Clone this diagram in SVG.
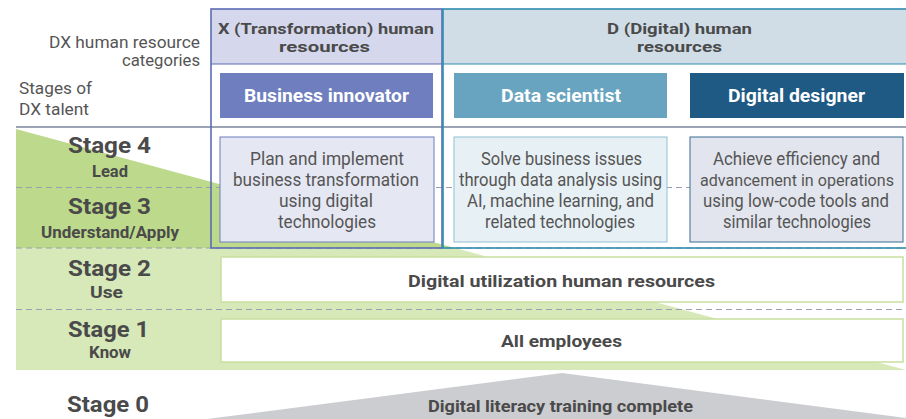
<svg xmlns="http://www.w3.org/2000/svg" width="906" height="419" viewBox="0 0 906 419">
<style>
text{font-family:Roboto,"Liberation Sans",sans-serif}
.b{font-weight:700;fill:#4a4a4a}
.r{font-weight:400;fill:#555}
.hd{font-size:15.5px}
.role{font-size:19px;font-weight:700;fill:#fff}
.stg{font-size:22px}
.sub{font-size:16px}
.desc{font-size:17.5px}
.lbl{font-size:17px}
.band{font-size:17px}
.dash{stroke:#9aa0b0;stroke-width:1.2;stroke-dasharray:6 4;fill:none}
</style>
<g id="background">
<polygon points="16,129 455,248 16,248" fill="#bdd98b"/>
<polygon points="16,248 455,248 906,370 16,370" fill="#d7e8b9"/>
<polygon points="207,419 562,373 906,418 906,419" fill="#cccdd0"/>
</g>
<g id="connectors">
<line x1="16" y1="127" x2="906" y2="127" stroke="#9ba4b4" stroke-width="2"/>
<line class="dash" x1="16" y1="187.5" x2="906" y2="187.5"/>
<line class="dash" x1="16" y1="248" x2="906" y2="248"/>
<line class="dash" x1="16" y1="309.5" x2="906" y2="309.5"/>
</g>
<g id="labels">
<text class="r lbl" x="49" y="48" textLength="151" lengthAdjust="spacingAndGlyphs">DX human resource</text>
<text class="r lbl" x="122" y="66" textLength="78" lengthAdjust="spacingAndGlyphs">categories</text>
<text class="r lbl" x="19" y="94" textLength="73" lengthAdjust="spacingAndGlyphs">Stages of</text>
<text class="r lbl" x="19" y="115" textLength="70" lengthAdjust="spacingAndGlyphs">DX talent</text>
</g>
<g id="col-x">
<rect x="211" y="9" width="231" height="55" fill="#d5d8ec"/>
<line x1="211" y1="64" x2="442" y2="64" stroke="#5b6db3" stroke-width="1"/>
<rect x="211" y="9" width="231" height="239" fill="none" stroke="#5b6db3" stroke-width="1.6"/>
<text class="b hd" x="218" y="34" textLength="216" lengthAdjust="spacingAndGlyphs">X (Transformation) human</text>
<text class="b hd" x="279" y="52" textLength="91" lengthAdjust="spacingAndGlyphs">resources</text>
</g>
<g id="col-d">
<rect x="443" y="9" width="470" height="55" fill="#d0dde7"/>
<line x1="443" y1="64" x2="906" y2="64" stroke="#2f8cb0" stroke-width="1"/>
<rect x="443" y="9" width="470" height="239" fill="none" stroke="#2f8cb0" stroke-width="1.6"/>
<text class="b hd" x="607" y="34" textLength="145" lengthAdjust="spacingAndGlyphs">D (Digital) human</text>
<text class="b hd" x="637" y="52" textLength="85" lengthAdjust="spacingAndGlyphs">resources</text>
</g>
<g id="role-business-innovator">
<rect x="220" y="73" width="213" height="45" fill="#6e7ebe"/>
<text class="role" x="244" y="102" textLength="165" lengthAdjust="spacingAndGlyphs">Business innovator</text>
</g>
<g id="role-data-scientist">
<rect x="454" y="73" width="213" height="45" fill="#68a4bf"/>
<text class="role" x="501" y="102" textLength="120" lengthAdjust="spacingAndGlyphs">Data scientist</text>
</g>
<g id="role-digital-designer">
<rect x="690" y="73" width="214" height="45" fill="#1f5a85"/>
<text class="role" x="728" y="102" textLength="137" lengthAdjust="spacingAndGlyphs">Digital designer</text>
</g>
<g id="desc-business-innovator">
<rect x="220" y="137" width="214" height="105" fill="#e5e7f3" stroke="#6c7cbc" stroke-width="1"/>
<text class="r desc" x="250" y="165" textLength="154" lengthAdjust="spacingAndGlyphs">Plan and implement</text>
<text class="r desc" x="233" y="186" textLength="186" lengthAdjust="spacingAndGlyphs">business transformation</text>
<text class="r desc" x="279" y="207" textLength="94" lengthAdjust="spacingAndGlyphs">using digital</text>
<text class="r desc" x="278" y="228" textLength="98" lengthAdjust="spacingAndGlyphs">technologies</text>
</g>
<g id="desc-data-scientist">
<rect x="454" y="137" width="213" height="105" fill="#e7f0f4" stroke="#90c0d4" stroke-width="1"/>
<text class="r desc" x="481" y="165" textLength="161" lengthAdjust="spacingAndGlyphs">Solve business issues</text>
<text class="r desc" x="459" y="186" textLength="203" lengthAdjust="spacingAndGlyphs">through data analysis using</text>
<text class="r desc" x="467" y="207" textLength="187" lengthAdjust="spacingAndGlyphs">AI, machine learning, and</text>
<text class="r desc" x="485" y="228" textLength="150" lengthAdjust="spacingAndGlyphs">related technologies</text>
</g>
<g id="desc-digital-designer">
<rect x="690" y="137" width="213" height="105" fill="#e2e5ed" stroke="#3b6a92" stroke-width="1"/>
<text class="r desc" x="713" y="165" textLength="167" lengthAdjust="spacingAndGlyphs">Achieve efficiency and</text>
<text class="r desc" x="700" y="186" textLength="194" lengthAdjust="spacingAndGlyphs" style="font-size:16.5px">advancement in operations</text>
<text class="r desc" x="703" y="207" textLength="186" lengthAdjust="spacingAndGlyphs">using low-code tools and</text>
<text class="r desc" x="723" y="228" textLength="148" lengthAdjust="spacingAndGlyphs">similar technologies</text>
</g>
<g id="stage-labels">
<text class="b stg" x="68" y="153" textLength="83" lengthAdjust="spacingAndGlyphs">Stage 4</text>
<text class="b sub" x="92" y="177" textLength="36" lengthAdjust="spacingAndGlyphs">Lead</text>
<text class="b stg" x="68" y="214" textLength="83" lengthAdjust="spacingAndGlyphs">Stage 3</text>
<text class="b sub" x="41" y="238" textLength="138" lengthAdjust="spacingAndGlyphs">Understand/Apply</text>
<text class="b stg" x="68" y="276" textLength="83" lengthAdjust="spacingAndGlyphs">Stage 2</text>
<text class="b sub" x="90" y="298" textLength="33" lengthAdjust="spacingAndGlyphs">Use</text>
<text class="b stg" x="68" y="337" textLength="81" lengthAdjust="spacingAndGlyphs">Stage 1</text>
<text class="b sub" x="89" y="358" textLength="42" lengthAdjust="spacingAndGlyphs">Know</text>
<text class="b stg" x="67" y="412" textLength="82" lengthAdjust="spacingAndGlyphs">Stage 0</text>
</g>
<g id="digital-utilization">
<rect x="221" y="257" width="682" height="45" fill="#fff" stroke="#c8e0a0" stroke-width="1.5"/>
<text class="b band" x="408" y="287" textLength="307" lengthAdjust="spacingAndGlyphs">Digital utilization human resources</text>
</g>
<g id="all-employees">
<rect x="221" y="319" width="682" height="43" fill="#fff" stroke="#c8e0a0" stroke-width="1.5"/>
<text class="b band" x="501" y="347" textLength="121" lengthAdjust="spacingAndGlyphs">All employees</text>
</g>
<g id="digital-literacy">
<text class="b band" x="428" y="412" textLength="265" lengthAdjust="spacingAndGlyphs">Digital literacy training complete</text>
</g>
</svg>
